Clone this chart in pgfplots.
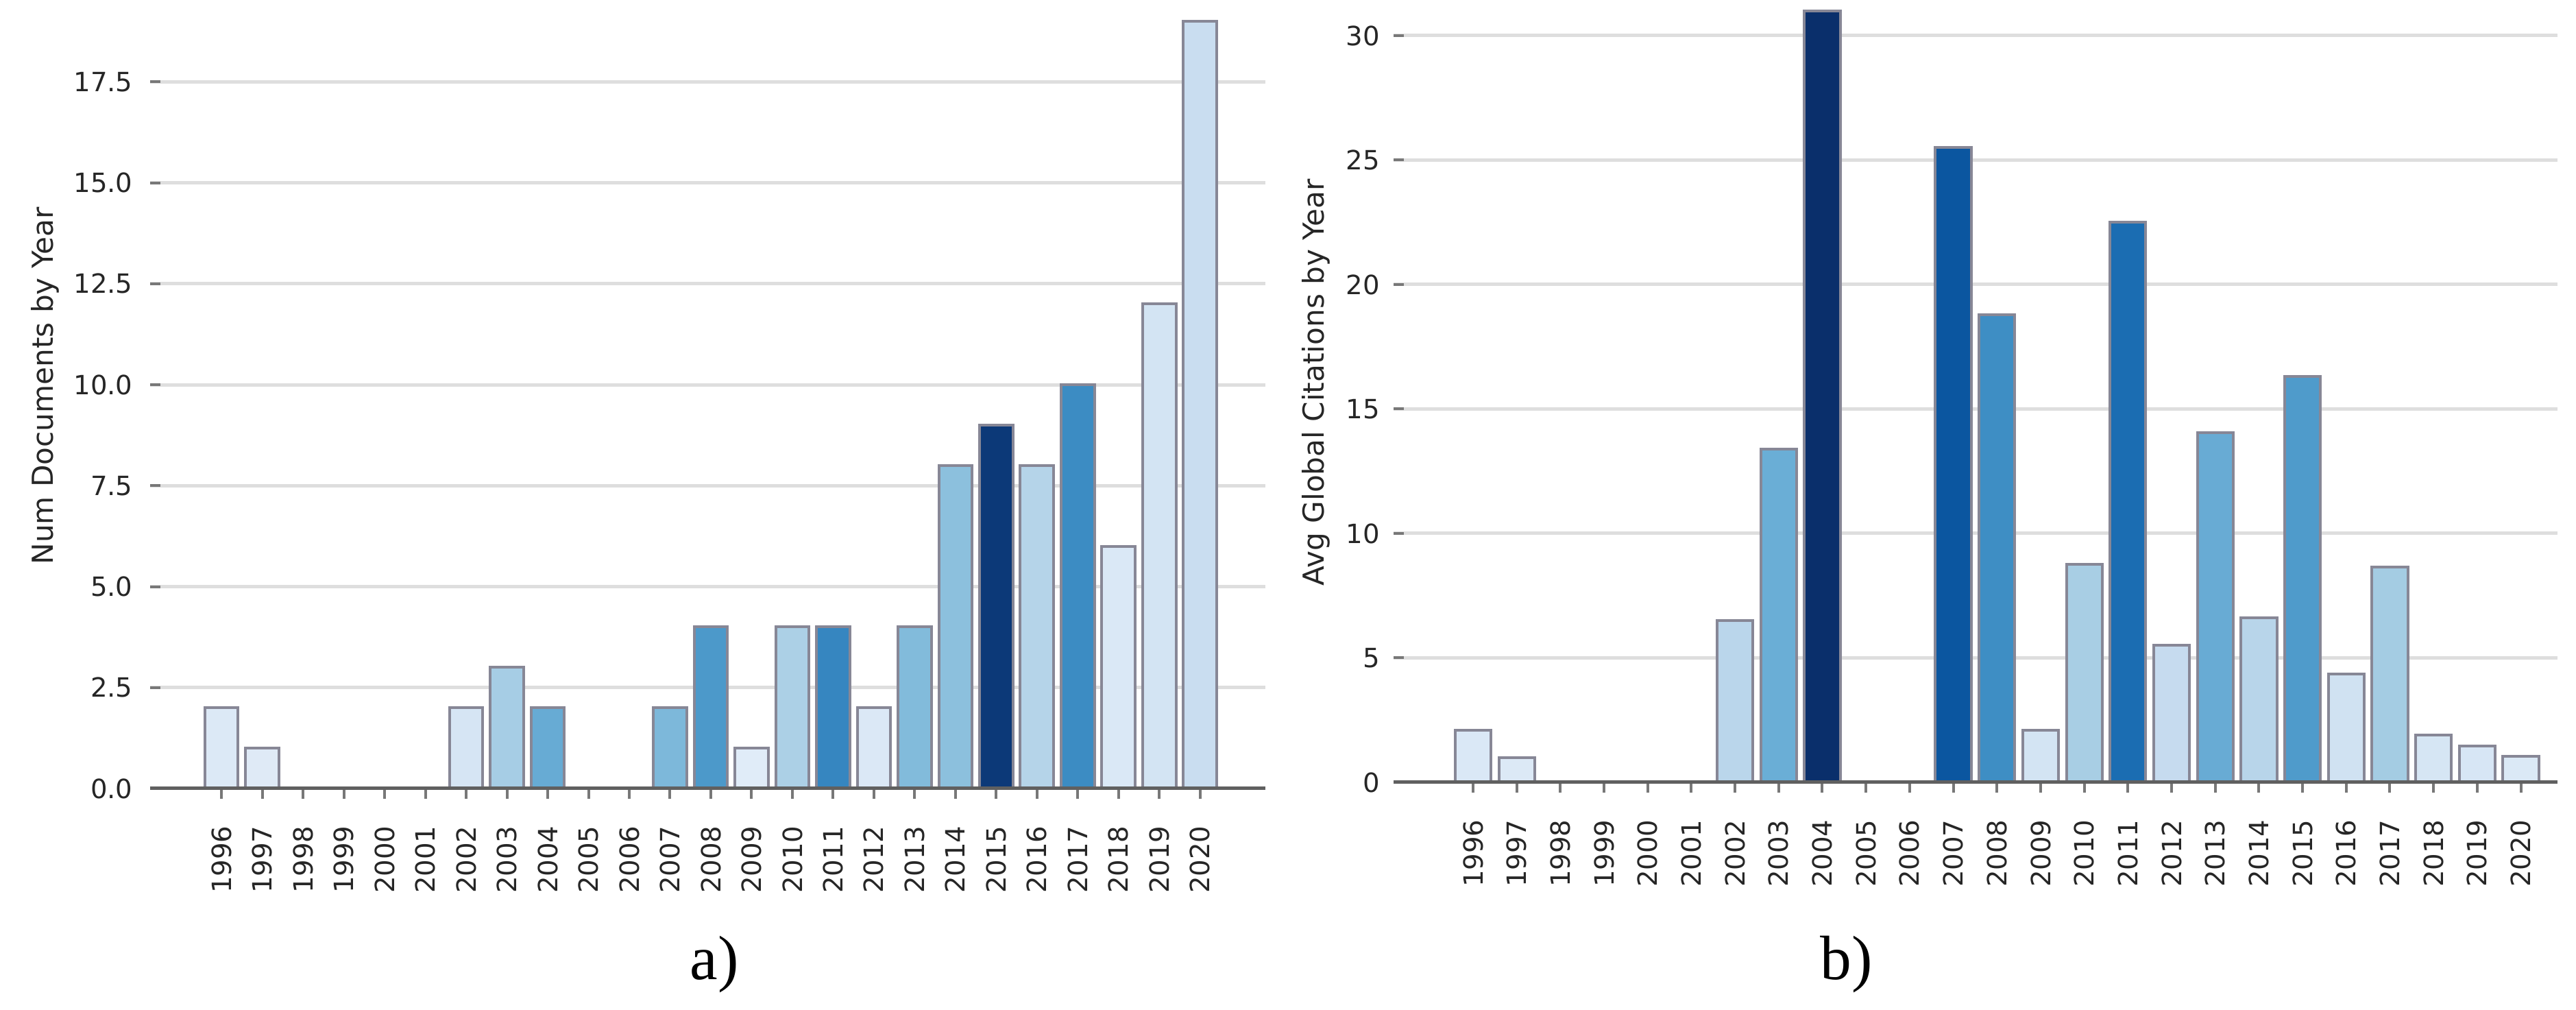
\documentclass[border=0pt]{standalone}
\usepackage{pgfplots}
\pgfplotsset{compat=1.18}
\usepackage{fontspec}
\setmainfont{DejaVu Sans}
\newfontfamily\capfont{Liberation Serif}

\definecolor{gridc}{RGB}{222,222,222}
\definecolor{edgec}{RGB}{135,135,150}
\definecolor{axisc}{RGB}{96,96,96}
\definecolor{tickc}{RGB}{120,120,120}

% left panel colours
\definecolor{a96}{HTML}{DCE9F6}
\definecolor{a97}{HTML}{DFEAF6}
\definecolor{a02}{HTML}{D6E5F4}
\definecolor{a03}{HTML}{A6CDE5}
\definecolor{a04}{HTML}{67ABD4}
\definecolor{a07}{HTML}{7DB8DA}
\definecolor{a08}{HTML}{4C99CA}
\definecolor{a09}{HTML}{E0ECF8}
\definecolor{a10}{HTML}{ACD0E6}
\definecolor{a11}{HTML}{3686C0}
\definecolor{a12}{HTML}{DBE8F6}
\definecolor{a13}{HTML}{82BBDB}
\definecolor{a14}{HTML}{8CC0DD}
\definecolor{a15}{HTML}{0C3978}
\definecolor{a16}{HTML}{B5D4E9}
\definecolor{a17}{HTML}{3C8CC3}
\definecolor{a18}{HTML}{DAE8F6}
\definecolor{a19}{HTML}{D3E4F3}
\definecolor{a20}{HTML}{C9DDF0}

% right panel colours
\definecolor{b96}{HTML}{DAE8F6}
\definecolor{b97}{HTML}{DCE9F6}
\definecolor{b02}{HTML}{BAD6EB}
\definecolor{b03}{HTML}{6AAED6}
\definecolor{b04}{HTML}{0A2F6B}
\definecolor{b07}{HTML}{0B56A0}
\definecolor{b08}{HTML}{3E8EC4}
\definecolor{b09}{HTML}{D3E4F3}
\definecolor{b10}{HTML}{A8CEE4}
\definecolor{b11}{HTML}{1B6DB2}
\definecolor{b12}{HTML}{C6DBEF}
\definecolor{b13}{HTML}{68ABD4}
\definecolor{b14}{HTML}{B8D5EA}
\definecolor{b15}{HTML}{4F9BCB}
\definecolor{b16}{HTML}{D0E2F2}
\definecolor{b17}{HTML}{A4CCE3}
\definecolor{b18}{HTML}{D6E6F4}
\definecolor{b19}{HTML}{D7E6F5}
\definecolor{b20}{HTML}{DBE9F6}

\pgfplotsset{
  yearbars/.style={
    scale only axis,
    axis x line=bottom, axis y line=left,
    x axis line style={-, draw=axisc, line width=0.25mm},
    y axis line style={draw=none},
    xtick={0,...,24},
    xticklabels={1996,1997,1998,1999,2000,2001,2002,2003,2004,2005,2006,2007,2008,
      2009,2010,2011,2012,2013,2014,2015,2016,2017,2018,2019,2020},
    xtick align=outside, ytick align=inside,
    major tick length=0.75mm,
    tick style={draw=tickc, line width=0.2mm},
    ymajorgrids,
    major grid style={draw=gridc, line width=0.25mm},
    ymin=0,
    tick label style={font=\fontsize{5.5}{6}\selectfont, text=black!85},
    xticklabel style={rotate=90, anchor=east, inner sep=0pt},
    xticklabel shift=1.9mm,
    yticklabel style={anchor=east, inner sep=0pt},
    /pgf/number format/assume math mode=true,
    every axis plot/.append style={ybar, bar width=0.82, bar shift=0pt,
      draw=edgec, line width=0.2mm},
  },
}
\tikzset{
  ylab/.style={rotate=90, anchor=center, inner sep=0pt,
    font=\fontsize{6}{7}\selectfont, text=black!85},
}

\begin{document}
\begin{tikzpicture}
\useasboundingbox (0,0) rectangle (187.9mm,73.6mm);

\begin{axis}[
  yearbars,
  at={(10.95mm,16.1mm)}, anchor=south west,
  width=81.35mm, height=57.13mm,
  xmin=-1.75, xmax=25.6,
  ymax=19.4,
  ytick={0,2.5,5,7.5,10,12.5,15,17.5},
  yticklabel style={xshift=-1.2mm,
    /pgf/number format/.cd, fixed, fixed zerofill, precision=1},
]
  \addplot[fill=a96] coordinates {(0,2)};
  \addplot[fill=a97] coordinates {(1,1)};
  \addplot[fill=a02] coordinates {(6,2)};
  \addplot[fill=a03] coordinates {(7,3)};
  \addplot[fill=a04] coordinates {(8,2)};
  \addplot[fill=a07] coordinates {(11,2)};
  \addplot[fill=a08] coordinates {(12,4)};
  \addplot[fill=a09] coordinates {(13,1)};
  \addplot[fill=a10] coordinates {(14,4)};
  \addplot[fill=a11] coordinates {(15,4)};
  \addplot[fill=a12] coordinates {(16,2)};
  \addplot[fill=a13] coordinates {(17,4)};
  \addplot[fill=a14] coordinates {(18,8)};
  \addplot[fill=a15] coordinates {(19,9)};
  \addplot[fill=a16] coordinates {(20,8)};
  \addplot[fill=a17] coordinates {(21,10)};
  \addplot[fill=a18] coordinates {(22,6)};
  \addplot[fill=a19] coordinates {(23,12)};
  \addplot[fill=a20] coordinates {(24,19)};
  % baseline drawn again over the bar feet
  \draw[axisc, line width=0.25mm] (axis cs:-1.75,0) -- (axis cs:25.6,0);
\end{axis}
\node[ylab] at (3.3mm,45.45mm) {Num Documents by Year};

\begin{axis}[
  yearbars,
  at={(101.65mm,16.55mm)}, anchor=south west,
  width=84.9mm, height=56.81mm,
  xmin=-1.82, xmax=24.84,
  ymax=31.3,
  ytick={0,5,10,15,20,25,30},
  yticklabel style={xshift=-0.95mm},
]
  \addplot[fill=b96] coordinates {(0,2.1)};
  \addplot[fill=b97] coordinates {(1,1.0)};
  \addplot[fill=b02] coordinates {(6,6.5)};
  \addplot[fill=b03] coordinates {(7,13.4)};
  \addplot[fill=b04] coordinates {(8,31.0)};
  \addplot[fill=b07] coordinates {(11,25.5)};
  \addplot[fill=b08] coordinates {(12,18.8)};
  \addplot[fill=b09] coordinates {(13,2.1)};
  \addplot[fill=b10] coordinates {(14,8.75)};
  \addplot[fill=b11] coordinates {(15,22.5)};
  \addplot[fill=b12] coordinates {(16,5.5)};
  \addplot[fill=b13] coordinates {(17,14.05)};
  \addplot[fill=b14] coordinates {(18,6.6)};
  \addplot[fill=b15] coordinates {(19,16.3)};
  \addplot[fill=b16] coordinates {(20,4.35)};
  \addplot[fill=b17] coordinates {(21,8.65)};
  \addplot[fill=b18] coordinates {(22,1.9)};
  \addplot[fill=b19] coordinates {(23,1.45)};
  \addplot[fill=b20] coordinates {(24,1.05)};
  \draw[axisc, line width=0.25mm] (axis cs:-1.82,0) -- (axis cs:24.84,0);
\end{axis}
\node[ylab] at (96mm,45.7mm) {Avg Global Citations by Year};

\node[font=\capfont\fontsize{13}{14}\selectfont] at (52.1mm,3.25mm) {a)};
\node[font=\capfont\fontsize{13}{14}\selectfont] at (134.7mm,3.25mm) {b)};
\end{tikzpicture}
\end{document}
